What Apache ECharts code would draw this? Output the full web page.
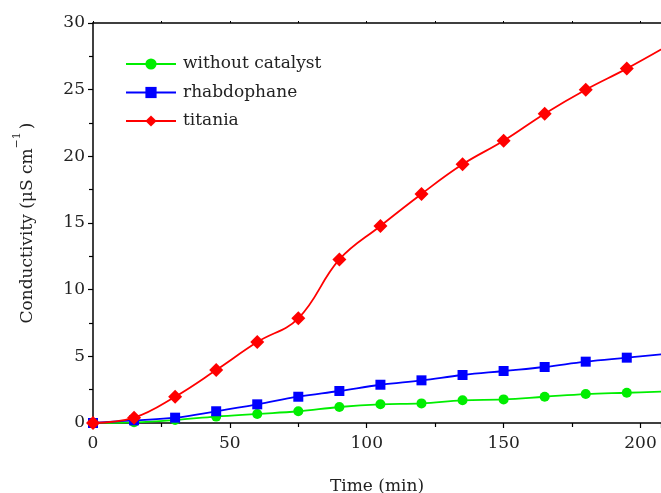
<!DOCTYPE html>
<html>
<head>
<meta charset="utf-8">
<script src="https://cdn.jsdelivr.net/npm/echarts@6/dist/echarts.min.js"></script>
<style>html,body{margin:0;padding:0;background:#fff;}#c{width:661px;height:493px;}</style>
</head>
<body>
<div id="c"></div>
<script>
const times = [0, 15, 30, 45, 60, 75, 90, 105, 120, 135, 150, 165, 180, 195];
const withoutCatalyst = [0, 0.05, 0.23, 0.48, 0.68, 0.88, 1.2, 1.4, 1.47, 1.7, 1.77, 1.97, 2.17, 2.27];
const rhabdophane = [0, 0.2, 0.4, 0.88, 1.4, 1.97, 2.4, 2.87, 3.2, 3.6, 3.9, 4.2, 4.6, 4.9];
const titania = [0, 0.4, 1.97, 3.97, 6.07, 7.85, 12.27, 14.78, 17.18, 19.4, 21.17, 23.2, 25.0, 26.58];
// fitted curves continue past the last measurement to the plot edge
const extendTime = 210;
const extendWithout = 2.37;
const extendRhab = 5.2;
const extendTitania = 28.3;
const xTicks = [0, 50, 100, 150, 200];
const yTicks = [0, 5, 10, 15, 20, 25, 30];
const seriesNames = ['without catalyst', 'rhabdophane', 'titania'];

const FONT = 'DejaVu Serif';
const TXT = '#222';

function build(vals, ext) {
  const d = times.map((t, i) => [t, vals[i]]);
  d.push({ value: [extendTime, ext], symbol: 'none' });
  return d;
}

const chart = echarts.init(document.getElementById('c'), null, { renderer: 'canvas' });
const axisCommon = {
  axisLine: { show: true, lineStyle: { color: '#000', width: 1.5 } },
  splitLine: { show: false },
  minorSplitLine: { show: false }
};
chart.setOption({
  animation: false,
  backgroundColor: '#fff',
  grid: { left: 93, top: 23, right: 0, bottom: 70, containLabel: false, outerBoundsMode: 'none' },
  legend: {
    orient: 'vertical',
    left: 125,
    top: 55,
    padding: 0,
    itemWidth: 50,
    itemHeight: 14,
    itemGap: 10.5,
    textStyle: { fontFamily: FONT, fontSize: 17, color: TXT, lineHeight: 18, padding: [0, 0, 0, 2] },
    data: seriesNames
  },
  xAxis: [{
    type: 'value',
    min: 0, max: 207.5, interval: 50,
    position: 'bottom',
    ...axisCommon,
    axisTick: { show: true, length: 5, inside: false, lineStyle: { color: '#000', width: 1.2 } },
    minorTick: { show: true, splitNumber: 2, length: 4, lineStyle: { color: '#000', width: 1.2 } },
    axisLabel: { fontFamily: FONT, fontSize: 17, color: TXT, margin: 12, showMaxLabel: false,
      formatter: v => xTicks.includes(v) ? String(v) : '' },
    name: 'Time (min)',
    nameLocation: 'middle',
    nameGap: 55,
    nameTextStyle: { fontFamily: FONT, fontSize: 17, color: TXT }
  }, {
    type: 'value',
    min: 0, max: 207.5, interval: 50,
    position: 'top',
    ...axisCommon,
    axisTick: { show: true, length: 2, inside: false, lineStyle: { color: '#000', width: 1 } },
    minorTick: { show: true, splitNumber: 2, length: 2, lineStyle: { color: '#000', width: 1 } },
    axisLabel: { show: false }
  }],
  yAxis: {
    type: 'value',
    min: 0, max: 30, interval: 5,
    ...axisCommon,
    axisTick: { show: true, length: 5, inside: false, lineStyle: { color: '#000', width: 1.2 } },
    minorTick: { show: true, splitNumber: 2, length: 4, lineStyle: { color: '#000', width: 1.2 } },
    axisLabel: { fontFamily: FONT, fontSize: 17, color: TXT, margin: 8,
      formatter: v => yTicks.includes(v) ? String(v) : '' },
    name: '{a|Conductivity (μS cm}{s|−1}{a|)}',
    nameLocation: 'middle',
    nameGap: 57,
    nameRotate: 90,
    nameTextStyle: {
      rich: {
        a: { fontFamily: FONT, fontSize: 17, color: TXT, lineHeight: 24, verticalAlign: 'bottom' },
        s: { fontFamily: FONT, fontSize: 11, color: TXT, lineHeight: 24, verticalAlign: 'top', padding: [0, 3, 0, 0] }
      }
    }
  },
  series: [
    {
      name: seriesNames[0], type: 'line', smooth: 0.4,
      data: build(withoutCatalyst, extendWithout),
      symbol: 'circle', symbolSize: 10,
      lineStyle: { color: '#00ee00', width: 1.8 },
      itemStyle: { color: '#00ee00' },
      z: 3
    },
    {
      name: seriesNames[1], type: 'line', smooth: 0.4,
      data: build(rhabdophane, extendRhab),
      symbol: 'rect', symbolSize: 10,
      lineStyle: { color: '#0000ff', width: 1.8 },
      itemStyle: { color: '#0000ff' },
      z: 4
    },
    {
      name: seriesNames[2], type: 'line', smooth: 0.4,
      data: build(titania, extendTitania),
      symbol: 'diamond', symbolSize: [14, 14],
      lineStyle: { color: '#ff0000', width: 1.8 },
      itemStyle: { color: '#ff0000' },
      z: 5
    }
  ]
});
</script>
</body>
</html>
